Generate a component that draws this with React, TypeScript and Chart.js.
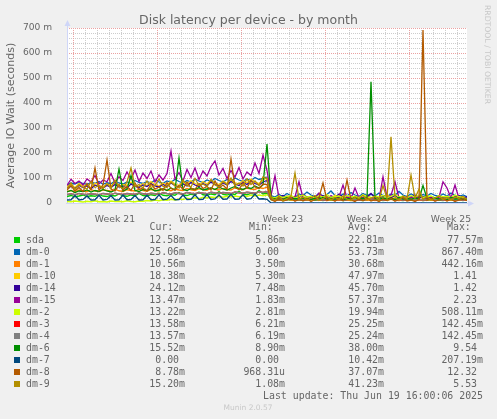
import { useEffect, useRef } from "react";
import { Chart, registerables } from "chart.js";

Chart.register(...registerables);

// munin "month" graph: 33 days, one sample every 8 hours (ms values)
const SAMPLE_HOURS = 8;

const deviceNames = ["sda", "dm-0", "dm-1", "dm-10", "dm-14", "dm-15", "dm-2", "dm-3", "dm-4", "dm-6", "dm-7", "dm-8", "dm-9"];
const deviceColors = ["#00CC00", "#0066B3", "#FF8000", "#FFCC00", "#330099", "#990099", "#CCFF00", "#FF0000", "#808080", "#008F00", "#00487D", "#B35A00", "#B38F00"];

const sda = [
  26, 30, 25, 28, 32, 26, 29, 27, 34, 28,
  26, 31, 28, 36, 29, 27, 32, 29, 38, 30,
  28, 33, 30, 40, 31, 29, 34, 31, 42, 32,
  30, 35, 32, 44, 33, 31, 36, 33, 46, 34,
  32, 37, 34, 48, 35, 33, 38, 35, 50, 36,
  40, 13, 11, 12, 10, 14, 12, 11, 13, 10,
  12, 15, 11, 13, 10, 13, 12, 11, 14, 10,
  12, 13, 11, 12, 10, 14, 12, 11, 13, 10,
  12, 16, 11, 12, 10, 13, 12, 11, 14, 10,
  12, 13, 11, 12, 10, 14, 12, 11, 13, 10,
  13,
];
const dm0 = [
  72, 80, 76, 84, 78, 74, 82, 79, 86, 75,
  81, 77, 88, 80, 76, 84, 79, 90, 82, 78,
  86, 80, 92, 84, 79, 88, 83, 95, 86, 80,
  90, 84, 96, 88, 82, 92, 86, 98, 90, 84,
  94, 88, 100, 92, 86, 96, 90, 102, 94, 98,
  104, 30, 24, 34, 26, 38, 28, 22, 36, 30,
  44, 32, 26, 38, 28, 34, 48, 30, 24, 36,
  28, 42, 32, 26, 38, 30, 34, 28, 40, 30,
  26, 36, 30, 46, 32, 26, 36, 30, 24, 34,
  28, 38, 30, 26, 36, 28, 40, 30, 26, 32,
  25,
];
const dm1 = [
  46, 50, 44, 52, 48, 45, 54, 48, 46, 52,
  50, 47, 55, 49, 46, 53, 50, 48, 56, 50,
  47, 54, 51, 48, 57, 52, 49, 56, 52, 50,
  58, 53, 50, 57, 54, 51, 60, 55, 52, 58,
  54, 52, 61, 56, 53, 60, 56, 54, 62, 58,
  64, 14, 11, 13, 10, 15, 12, 11, 14, 10,
  13, 12, 16, 11, 13, 10, 14, 12, 11, 15,
  12, 10, 13, 12, 16, 11, 13, 10, 14, 12,
  11, 15, 12, 10, 13, 12, 16, 11, 13, 10,
  14, 12, 11, 15, 12, 10, 13, 12, 14, 11,
  11,
];
const dm10 = [
  66, 74, 62, 78, 68, 72, 60, 80, 70, 64,
  76, 68, 82, 66, 74, 70, 84, 72, 66, 78,
  70, 86, 74, 68, 80, 72, 88, 76, 70, 84,
  74, 90, 78, 72, 86, 76, 92, 80, 74, 88,
  78, 94, 82, 76, 90, 80, 96, 84, 78, 92,
  100, 22, 16, 26, 18, 14, 24, 20, 30, 18,
  22, 16, 28, 20, 18, 24, 16, 32, 20, 18,
  26, 20, 16, 24, 18, 30, 22, 18, 26, 20,
  34, 22, 18, 24, 16, 28, 20, 18, 24, 20,
  30, 18, 22, 16, 26, 20, 18, 24, 20, 22,
  18,
];
const dm14 = [
  60, 66, 58, 70, 62, 68, 56, 72, 64, 60,
  70, 62, 74, 64, 68, 60, 76, 66, 62, 72,
  66, 78, 68, 64, 74, 66, 80, 70, 64, 76,
  68, 82, 72, 66, 78, 70, 84, 74, 68, 80,
  72, 86, 76, 70, 82, 74, 88, 78, 72, 84,
  90, 26, 20, 24, 30, 22, 18, 26, 22, 34,
  24, 20, 26, 22, 30, 20, 24, 22, 36, 24,
  20, 28, 22, 26, 20, 24, 38, 22, 20, 28,
  24, 22, 30, 20, 26, 22, 24, 32, 20, 26,
  22, 24, 20, 28, 22, 26, 20, 24, 30, 22,
  24,
];
const dm15 = [
  70, 95, 78, 88, 72, 96, 84, 110, 76, 92,
  85, 118, 80, 105, 90, 124, 95, 132, 86, 120,
  98, 128, 84, 112, 92, 118, 208, 96, 122, 88,
  134, 102, 140, 94, 128, 108, 146, 168, 112, 138,
  98, 130, 104, 142, 96, 124, 110, 160, 118, 192,
  130, 30, 109, 22, 18, 28, 16, 24, 85, 20,
  14, 26, 18, 40, 22, 16, 30, 20, 24, 72,
  22, 18, 60, 20, 16, 28, 18, 22, 14, 105,
  24, 30, 85, 20, 16, 26, 22, 18, 30, 20,
  16, 24, 18, 22, 85, 60, 20, 72, 18, 22,
  13,
];
const dm2 = [
  6, 5, 8, 6, 4, 7, 5, 9, 5, 6,
  4, 8, 6, 7, 5, 9, 6, 5, 8, 7,
  10, 8, 12, 9, 13, 11, 15, 12, 16, 14,
  19, 16, 21, 18, 23, 20, 24, 22, 26, 23,
  27, 24, 28, 25, 30, 26, 31, 28, 32, 29,
  33, 24, 20, 28, 22, 26, 30, 21, 25, 32,
  23, 27, 20, 29, 24, 34, 22, 26, 28, 21,
  30, 24, 27, 22, 33, 25, 20, 28, 24, 30,
  22, 26, 35, 23, 27, 21, 29, 24, 31, 22,
  26, 28, 20, 30, 24, 27, 22, 32, 25, 23,
  13,
];
const dm3 = [
  34, 36, 33, 38, 35, 34, 37, 35, 33, 38,
  36, 34, 39, 36, 34, 38, 36, 35, 40, 37,
  35, 39, 37, 35, 41, 38, 36, 40, 38, 36,
  42, 39, 37, 41, 39, 37, 43, 40, 38, 42,
  40, 38, 44, 41, 39, 43, 41, 39, 45, 42,
  46, 16, 13, 15, 12, 14, 17, 13, 15, 12,
  14, 16, 14, 15, 12, 13, 17, 13, 15, 12,
  14, 16, 13, 14, 12, 15, 17, 13, 15, 12,
  14, 16, 13, 15, 12, 14, 18, 13, 15, 12,
  14, 16, 13, 15, 12, 14, 17, 13, 15, 12,
  14,
];
const dm4 = [
  34, 36, 33, 38, 35, 34, 37, 35, 33, 38,
  36, 34, 39, 36, 34, 38, 36, 35, 40, 37,
  35, 39, 37, 35, 41, 38, 36, 40, 38, 36,
  42, 39, 37, 41, 39, 37, 43, 40, 38, 42,
  40, 38, 44, 41, 39, 43, 41, 39, 45, 42,
  46, 16, 13, 15, 12, 14, 17, 13, 15, 12,
  14, 16, 14, 15, 12, 13, 17, 13, 15, 12,
  14, 16, 13, 14, 12, 15, 17, 13, 15, 12,
  14, 16, 13, 15, 12, 14, 18, 13, 15, 12,
  14, 16, 13, 15, 12, 14, 17, 13, 15, 12,
  14,
];
const dm6 = [
  44, 50, 42, 48, 46, 52, 44, 50, 46, 54,
  48, 44, 52, 136, 48, 56, 110, 50, 46, 54,
  50, 58, 48, 52, 56, 50, 60, 52, 180, 54,
  50, 58, 54, 62, 52, 56, 60, 54, 64, 56,
  52, 60, 66, 58, 54, 62, 58, 68, 60, 72,
  236, 20, 16, 18, 14, 22, 16, 18, 15, 20,
  17, 14, 19, 16, 22, 15, 18, 16, 20, 14,
  18, 16, 22, 15, 18, 20, 485, 18, 15, 20,
  16, 18, 14, 22, 16, 18, 15, 20, 16, 70,
  18, 15, 20, 16, 18, 14, 22, 16, 18, 15,
  16,
];
const dm7 = [
  12, 13, 30, 12, 14, 28, 12, 13, 31, 12,
  14, 29, 12, 13, 32, 13, 14, 30, 12, 13,
  31, 13, 14, 33, 13, 15, 30, 13, 14, 32,
  14, 15, 33, 14, 15, 34, 14, 16, 32, 15,
  16, 35, 15, 16, 33, 15, 17, 36, 16, 17,
  15, 0, 0, 0, 0, 0, 0, 0, 0, 0,
  0, 0, 0, 0, 0, 0, 0, 0, 0, 0,
  0, 0, 0, 0, 0, 0, 0, 0, 0, 0,
  0, 0, 0, 0, 0, 0, 0, 0, 0, 0,
  0, 0, 0, 0, 0, 0, 0, 0, 0, 0,
  0,
];
const dm8 = [
  52, 70, 48, 62, 46, 78, 54, 140, 50, 72,
  172, 56, 48, 74, 52, 66, 50, 80, 54, 60,
  48, 76, 56, 64, 50, 82, 58, 52, 70, 56,
  84, 60, 54, 78, 58, 66, 52, 88, 60, 72,
  56, 176, 62, 54, 80, 60, 90, 64, 58, 76,
  74, 14, 6, 18, 8, 12, 20, 7, 15, 9,
  18, 6, 14, 22, 80, 10, 16, 7, 19, 9,
  92, 12, 6, 17, 9, 21, 8, 13, 6, 16,
  10, 19, 7, 14, 22, 8, 12, 6, 15, 692,
  11, 18, 7, 13, 20, 8, 15, 6, 12, 17,
  9,
];
const dm9 = [
  58, 80, 54, 74, 62, 56, 86, 62, 70, 58,
  78, 60, 92, 66, 58, 84, 140, 66, 74, 60,
  88, 62, 70, 96, 66, 62, 84, 68, 60, 92,
  70, 64, 98, 70, 76, 66, 94, 72, 64, 86,
  74, 100, 70, 80, 68, 96, 74, 88, 70, 104,
  96, 22, 12, 26, 10, 18, 28, 120, 14, 24,
  12, 20, 30, 10, 18, 26, 12, 22, 14, 28,
  16, 10, 24, 18, 30, 12, 20, 26, 12, 70,
  18, 265, 22, 12, 28, 16, 112, 20, 55, 14,
  26, 12, 20, 28, 14, 22, 12, 24, 18, 26,
  15,
];

const seriesValues = [sda, dm0, dm1, dm10, dm14, dm15, dm2, dm3, dm4, dm6, dm7, dm8, dm9];

// legend table, as rrdtool prints it (a blank stands in for "no SI unit")
const curValues = ["12.58m", "25.06m", "10.56m", "18.38m", "24.12m", "13.47m", "13.22m", "13.58m", "13.57m", "15.52m", "0.00 ", "8.78m", "15.20m"];
const minValues = ["5.86m", "0.00 ", "3.50m", "5.30m", "7.48m", "1.83m", "2.81m", "6.21m", "6.19m", "8.90m", "0.00 ", "968.31u", "1.08m"];
const avgValues = ["22.81m", "53.73m", "30.68m", "47.97m", "45.70m", "57.37m", "19.94m", "25.25m", "25.24m", "38.00m", "10.42m", "37.07m", "41.23m"];
const maxValues = ["77.57m", "867.40m", "442.16m", "1.41 ", "1.42 ", "2.23 ", "508.11m", "142.45m", "142.45m", "9.54 ", "207.19m", "12.32 ", "5.53 "];

const yTickLabels = ["0", "100 m", "200 m", "300 m", "400 m", "500 m", "600 m", "700 m"];
const weekLabels = ["Week 21", "Week 22", "Week 23", "Week 24", "Week 25"];

const TEXT = "#666666";
const MINOR = "#CDCDCD";
const MAJOR = "#EBA2A2";
const AXIS = "#CFD6F8";

// x ticks every 12h: day lines at 12 + 24k, weeks start at hour 12, labels mid-week
const gridHours = Array.from({ length: 66 }, (_, k) => 12 + 12 * k);

const isDayLine = (h: number) => (h - 12) % 24 === 0;
const isWeekLine = (h: number) => (h - 12) % 168 === 0;

const muninFrame = {
  id: "muninFrame",
  beforeDraw(chart: Chart) {
    const { ctx, chartArea: a, width, height } = chart;
    ctx.save();
    ctx.fillStyle = "#F0F0F0";
    ctx.fillRect(0, 0, width, height);
    ctx.fillStyle = "#FFFFFF";
    ctx.fillRect(a.left, a.top, a.right - a.left, a.bottom - a.top);
    ctx.restore();
  },
  beforeDatasetsDraw(chart: Chart) {
    const { ctx, chartArea: a } = chart;
    const xs: any = chart.scales.x;
    const ys: any = chart.scales.y;
    ctx.save();

    // dotted grid, minor first then major on top
    const vLine = (px: number, color: string) => {
      ctx.fillStyle = color;
      for (let y = a.top; y < a.bottom; y += 2) ctx.fillRect(px, y, 1, 1);
    };
    const hLine = (py: number, color: string) => {
      ctx.fillStyle = color;
      for (let x = a.left; x < a.right; x += 2) ctx.fillRect(x, py, 1, 1);
    };
    const xTicks: number[] = xs.ticks.map((t: any) => t.value).filter(isDayLine);
    const yTicks: number[] = ys.ticks.map((t: any) => t.value);
    xTicks.filter((h) => !isWeekLine(h)).forEach((h) => vLine(Math.round(xs.getPixelForValue(h)), MINOR));
    yTicks.filter((v) => v % 100 !== 0).forEach((v) => hLine(Math.round(ys.getPixelForValue(v)), MINOR));
    xTicks.filter(isWeekLine).forEach((h) => vLine(Math.round(xs.getPixelForValue(h)), MAJOR));
    yTicks.filter((v) => v % 100 === 0).forEach((v) => hLine(Math.round(ys.getPixelForValue(v)), MAJOR));

    // axes with arrow heads
    ctx.strokeStyle = AXIS;
    ctx.fillStyle = AXIS;
    ctx.lineWidth = 1;
    ctx.beginPath();
    ctx.moveTo(a.left + 0.5, a.bottom + 1);
    ctx.lineTo(a.left + 0.5, a.top - 4);
    ctx.moveTo(a.left - 1, a.bottom + 0.5);
    ctx.lineTo(a.right + 2, a.bottom + 0.5);
    ctx.stroke();
    ctx.beginPath();
    ctx.moveTo(a.left + 0.5, a.top - 8);
    ctx.lineTo(a.left - 2.5, a.top - 2);
    ctx.lineTo(a.left + 3.5, a.top - 2);
    ctx.closePath();
    ctx.fill();
    ctx.beginPath();
    ctx.moveTo(a.right + 7, a.bottom + 0.5);
    ctx.lineTo(a.right + 1, a.bottom - 2.5);
    ctx.lineTo(a.right + 1, a.bottom + 3.5);
    ctx.closePath();
    ctx.fill();
    ctx.restore();
  },
  afterDraw(chart: Chart) {
    const { ctx, chartArea: a, width } = chart;
    ctx.save();
    ctx.fillStyle = TEXT;

    // title
    ctx.font = "12.5px 'DejaVu Sans'";
    ctx.textAlign = "center";
    ctx.textBaseline = "alphabetic";
    ctx.fillText("Disk latency per device - by month", width / 2, 24);

    // vertical axis title
    ctx.save();
    ctx.translate(11, (a.top + a.bottom) / 2);
    ctx.rotate(-Math.PI / 2);
    ctx.font = "11px 'DejaVu Sans'";
    ctx.textBaseline = "middle";
    ctx.fillText("Average IO Wait (seconds)", 0, 0);
    ctx.restore();

    // watermark
    ctx.save();
    ctx.translate(487, 5);
    ctx.rotate(Math.PI / 2);
    ctx.font = "7.7px 'DejaVu Sans'";
    ctx.fillStyle = "#C8C8C8";
    ctx.textAlign = "left";
    ctx.textBaseline = "middle";
    ctx.fillText("RRDTOOL / TOBI OETIKER", 0, 0);
    ctx.restore();

    // legend table
    ctx.font = "9.9px 'DejaVu Sans Mono'";
    ctx.textBaseline = "middle";
    ctx.textAlign = "left";
    const headerX = [149.5, 249, 348, 447];
    ["Cur:", "Min:", "Avg:", "Max:"].forEach((h, k) => ctx.fillText(h, headerX[k], 227.5));
    const colEnd = [185, 285, 384, 483];
    const cols = [curValues, minValues, avgValues, maxValues];
    deviceNames.forEach((name, i) => {
      const y = 240.5 + i * 12;
      ctx.fillStyle = deviceColors[i];
      ctx.fillRect(14, y - 3.5, 6, 6);
      ctx.fillStyle = TEXT;
      ctx.textAlign = "left";
      ctx.fillText(name, 26, y);
      ctx.textAlign = "right";
      cols.forEach((col, k) => ctx.fillText(col[i], colEnd[k], y));
    });
    ctx.textAlign = "right";
    ctx.fillText("Last update: Thu Jun 19 16:00:06 2025", 483, 396);

    ctx.font = "7.5px 'DejaVu Sans'";
    ctx.fillStyle = "#C8C8C8";
    ctx.textAlign = "center";
    ctx.fillText("Munin 2.0.57", 248, 408.5);
    ctx.restore();
  },
};

export default function App() {
  const canvasRef = useRef<HTMLCanvasElement | null>(null);
  const chartRef = useRef<Chart | null>(null);

  useEffect(() => {
    if (!canvasRef.current) return;
    if (chartRef.current) chartRef.current.destroy();

    const n = seriesValues.length;
    chartRef.current = new Chart(canvasRef.current, {
      type: "line",
      data: {
        datasets: seriesValues.map((values, i) => ({
          label: deviceNames[i],
          data: values.map((v, k) => ({ x: k * SAMPLE_HOURS, y: v })),
          borderColor: deviceColors[i],
          backgroundColor: deviceColors[i],
          borderWidth: 1.3,
          pointRadius: 0,
          tension: 0,
          fill: false,
          order: n - i, // rrdtool paints in legend order, last one on top
        })),
      },
      options: {
        animation: false,
        responsive: false,
        events: [],
        layout: { padding: { top: 28, right: 30, bottom: 0, left: 0 } },
        plugins: {
          legend: { display: false },
          title: { display: false },
          tooltip: { enabled: false },
        },
        scales: {
          x: {
            type: "linear",
            min: 0,
            max: 800,
            afterBuildTicks: (scale: any) => {
              scale.ticks = gridHours.map((v) => ({ value: v }));
            },
            afterFit: (scale: any) => {
              scale.height = 216;
            },
            grid: { display: false },
            border: { display: false },
            ticks: {
              autoSkip: false,
              maxRotation: 0,
              padding: 3,
              color: TEXT,
              font: { family: "'DejaVu Sans'", size: 9.3 },
              callback: (v: any) => ((v - 96) % 168 === 0 ? weekLabels[(v - 96) / 168] : ""),
            },
          },
          y: {
            type: "linear",
            min: 0,
            max: 700,
            afterFit: (scale: any) => {
              scale.width = 67;
            },
            grid: { display: false },
            border: { display: false },
            ticks: {
              stepSize: 20,
              autoSkip: false,
              padding: 7,
              color: TEXT,
              font: { family: "'DejaVu Sans'", size: 9.1 },
              callback: (v: any) => (v % 100 === 0 ? yTickLabels[v / 100] : ""),
            },
          },
        },
      },
      plugins: [muninFrame],
    });

    return () => {
      if (chartRef.current) {
        chartRef.current.destroy();
        chartRef.current = null;
      }
    };
  }, []);

  return (
    <div style={{ position: "absolute", left: 0, top: 0, width: 497, height: 419, background: "#F0F0F0" }}>
      <canvas ref={canvasRef} width={497} height={419} style={{ display: "block" }} />
    </div>
  );
}
